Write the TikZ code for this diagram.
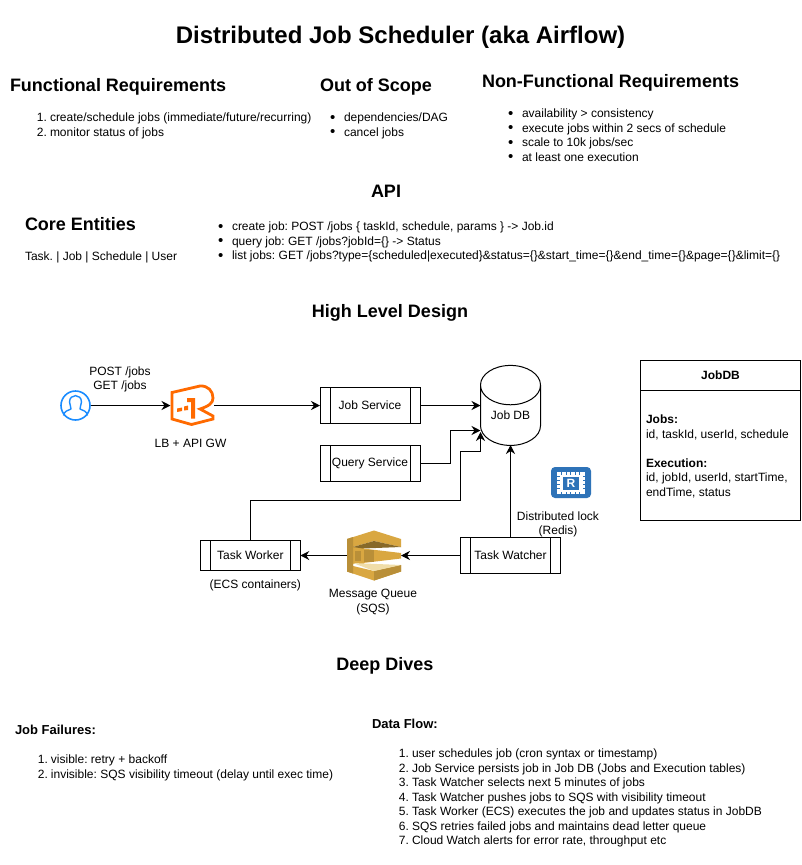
\documentclass[tikz,border=0pt]{standalone}
\usepackage{fontspec}
\setmainfont{Liberation Sans}
\usetikzlibrary{arrows.meta,shapes.geometric,calc}
\newcommand{\numli}[2]{\makebox[11pt][r]{#1}\hspace{3pt}#2}
\newcommand{\dotli}[1]{\makebox[14pt][l]{\raisebox{-0.5pt}{\fontsize{15}{15}\selectfont•}}#1}
\frenchspacing
\definecolor{lborange}{HTML}{FF6A00}
\definecolor{userblue}{HTML}{1A8CFF}
\definecolor{redisblue}{HTML}{2E73B8}
\definecolor{sqsgold}{HTML}{D9A741}
\definecolor{sqsmid}{HTML}{B98F38}
\definecolor{sqsdark}{HTML}{876929}
\definecolor{sqslight}{HTML}{F0DDA8}
\tikzset{
  base/.style={inner sep=0pt,outer sep=0pt,font=\fontsize{12}{14.5}\selectfont},
  body/.style={base,anchor=north west,align=left},
  title/.style={base,font=\bfseries\fontsize{24}{28}\selectfont},
  heading/.style={base,font=\bfseries\fontsize{18}{21}\selectfont},
  subheading/.style={base,anchor=west,font=\bfseries\fontsize{13}{15}\selectfont},
  caption/.style={base,align=center},
  procbox/.style={draw=black,line width=1pt,minimum width=100pt,minimum height=#1,base,
    path picture={\draw[line width=1pt]
      ([xshift=10pt]path picture bounding box.north west) -- ([xshift=10pt]path picture bounding box.south west)
      ([xshift=-10pt]path picture bounding box.north east) -- ([xshift=-10pt]path picture bounding box.south east);}},
  link/.style={line width=1pt,-{Stealth[length=9pt,width=9pt,inset=3pt]}},
  plain/.style={line width=1pt}
}
\begin{document}
\begin{tikzpicture}[x=1pt,y=-1pt]
\useasboundingbox (0,0) rectangle (801,865);
\fill[white] (0,0) rectangle (801,865);

\node[title] (ttl) at (400.5,37) {Distributed Job Scheduler (aka Airflow)};
\node[heading,anchor=west] (fr) at (10,87) {Functional Requirements};
\node[body] (frl) at (36,113) {\numli{1.}{create/schedule jobs (immediate/future/recurring)}\\\numli{2.}{monitor status of jobs}};
\node[heading,anchor=west] (oos) at (320,87) {Out of Scope};
\node[body] (oosl) at (330,113) {\dotli{dependencies/DAG}\\\dotli{cancel jobs}};
\node[heading,anchor=west] (nfr) at (482,83) {Non-Functional Requirements};
\node[body] (nfrl) at (508,109) {\dotli{availability > consistency}\\\dotli{execute jobs within 2 secs of schedule}\\\dotli{scale to 10k jobs/sec}\\\dotli{at least one execution}};
\node[heading] (api) at (386,191) {API};
\node[heading,anchor=west] (ce) at (25,224) {Core Entities};
\node[base,anchor=west] (cel) at (25,257) {Task. | Job | Schedule | User};
\node[body] (apil) at (218,222) {\dotli{create job: POST /jobs \{ taskId, schedule, params \} -> Job.id}\\\dotli{query job: GET /jobs?jobId=\{\} -> Status}\\\dotli{list jobs: GET /jobs?type=\{scheduled|executed\}\&status=\{\}\&start\_time=\{\}\&end\_time=\{\}\&page=\{\}\&limit=\{\}}};
\node[heading] (hld) at (390,313) {High Level Design};
\node[heading] (dd) at (385,666) {Deep Dives};
\node[subheading] (jf) at (15,730) {Job Failures:};
\node[body] (jfl) at (37,755) {\numli{1.}{visible: retry + backoff}\\\numli{2.}{invisible: SQS visibility timeout (delay until exec time)}};
\node[subheading] (df) at (372,724) {Data Flow:};
\node[body] (dfl) at (398,749) {\numli{1.}{user schedules job (cron syntax or timestamp)}\\\numli{2.}{Job Service persists job in Job DB (Jobs and Execution tables)}\\\numli{3.}{Task Watcher selects next 5 minutes of jobs}\\\numli{4.}{Task Watcher pushes jobs to SQS with visibility timeout}\\\numli{5.}{Task Worker (ECS) executes the job and updates status in JobDB}\\\numli{6.}{SQS retries failed jobs and maintains dead letter queue}\\\numli{7.}{Cloud Watch alerts for error rate, throughput etc}};

% user icon
\node[circle,draw=userblue,line width=1.6pt,minimum size=29pt,inner sep=0pt,outer sep=0.8pt] (user) at (75.5,405.5) {};
\draw[userblue,line width=1.4pt,line join=round] (63.5,415.5) .. controls (64,411) and (68,410.5) .. (71,409) .. controls (71.5,407.5) and (69.5,405) .. (69.5,402) .. controls (69.5,393.5) and (81.5,393.5) .. (81.5,402) .. controls (81.5,405) and (79.5,407.5) .. (80,409) .. controls (83,410.5) and (87,411) .. (87.5,415.5);
\node[caption] (usrl) at (120,379.5) {POST /jobs\\GET /jobs};

% load balancer / gateway icon
\coordinate (lb) at (170.5,405.5);
\coordinate (lbr) at (214,405.5);
\draw[lborange,line width=2.8pt,line join=miter] (172,392.5) -- (200,386) .. controls (208,385.5) and (213,391) .. (213,398) .. controls (213,403) and (209,406) .. (200,409) -- (213,416) -- (213,419) -- (191.5,424.5) -- (172,419) -- cycle;
\fill[lborange] (187,398) -- (195,398) -- (195,418.5) -- (191,418.5) -- (191,402) -- (187,402) -- cycle;
\fill[lborange] (177,408.5) -- (182,407.5) -- (182,411) -- (177,412) -- cycle;
\fill[lborange] (184,406.5) -- (188,405.5) -- (188,410) -- (184,410.5) -- cycle;
\node[caption] (lbl) at (190.5,443) {LB + API GW};

% services
\node[procbox=36pt] (js) at (370,405.5) {Job Service};
\node[procbox=36pt] (qs) at (370,463.3) {Query Service};
\node[procbox=30pt] (tw) at (250.3,555.5) {Task Worker};
\node[procbox=36pt] (tk) at (510.5,555.5) {Task Watcher};
\node[caption] (twc) at (255.3,585) {(ECS containers)};

% database
\node[cylinder,shape border rotate=90,draw=black,line width=1pt,aspect=1,minimum width=60pt,minimum height=80pt,inner sep=0pt,outer sep=0pt,base] (db) at (510.5,415.5) {Job DB};
\coordinate (dbw) at (480.5,405.5);
\coordinate (dbq) at (480.5,430.5);
\coordinate (dbt) at (480.5,432);
\coordinate (dbb) at (510.5,445);

% SQS icon
\coordinate (sqsl) at (347,555.5);
\coordinate (sqsr) at (401,555.5);
\fill[sqsgold] (347,539) -- (374,530.5) -- (401,539) -- (401,547) -- (374,541) -- (353,547) -- (353,566) -- (374,571) -- (401,565) -- (401,571.5) -- (374,580.5) -- (347,571.5) -- cycle;
\fill[sqsgold] (353,547) rectangle (364,564);
\fill[sqsmid] (374,580.5) -- (401,571.5) -- (401,565) -- (374,571) -- cycle;
\fill[sqsmid] (347,539) -- (353,537) -- (353,573.5) -- (347,571.5) -- cycle;
\fill[sqsdark] (353,547) -- (374,541) -- (401,547) -- (363,548.5) -- cycle;
\fill[sqsgold] (363,548.5) -- (401,553) -- (401,558.5) -- (363,563) -- cycle;
\fill[sqsmid] (354.5,551) rectangle (361,561);
\fill[sqsmid] (364,549.5) rectangle (374,561.5);
\fill[sqslight] (353,563) -- (401,565) -- (374,571) -- cycle;
\node[caption] (sqsc) at (373,602) {Message Queue\\(SQS)};

% Redis icon
\fill[redisblue,rounded corners=4pt] (551,467) rectangle (591,498);
\fill[white] (557,472) rectangle (585,494);
\fill[redisblue] (563,477) rectangle (579,490);
\foreach \x in {561,565.5,570,574.5,579} {
  \fill[redisblue] (\x,472) rectangle +(1.3,2.5);
  \fill[redisblue] (\x,491.5) rectangle +(1.3,2.5);
}
\foreach \y in {476,480,484,488} {
  \fill[redisblue] (557,\y) rectangle +(2.5,1.3);
  \fill[redisblue] (582.5,\y) rectangle +(2.5,1.3);
}
\node[base,white,font=\bfseries\fontsize{12}{12}\selectfont] (rr) at (571,483.5) {R};
\node[caption] (rl) at (558,524.5) {Distributed lock\\(Redis)};

% JobDB table
\node[draw=black,line width=1pt,minimum width=160pt,minimum height=160pt,base] (tbl) at (720.5,440) {};
\draw[plain] ($(tbl.north west)+(0,30.5)$) coordinate (tl) -- ($(tbl.north east)+(0,30.5)$) coordinate (tr);
\node[base,font=\bfseries\fontsize{12}{14}\selectfont] (tblh) at (720.5,375.5) {JobDB};
\node[body] (tblb) at (646,415) {\textbf{Jobs:}\\id, taskId, userId, schedule\\[14.5pt]\textbf{Execution:}\\id, jobId, userId, startTime,\\endTime, status};

% connectors
\draw[link] (user) -- (lb);
\draw[link] (lbr) -- (js.west);
\draw[link] (js.east) -- (dbw);
\draw[link] (qs.east) -| ($(qs.east)!0.5!(qs.east -| dbq)$) |- (dbq);
\draw[link] (tw.north) |- (460.5,500.5) |- (480.5,451) -- (dbt);
\draw[link] (tk.north -| dbb) -- (dbb);
\draw[link] (tk.west) -- (sqsr);
\draw[link] (sqsl) -- (tw.east);
\end{tikzpicture}
\end{document}
